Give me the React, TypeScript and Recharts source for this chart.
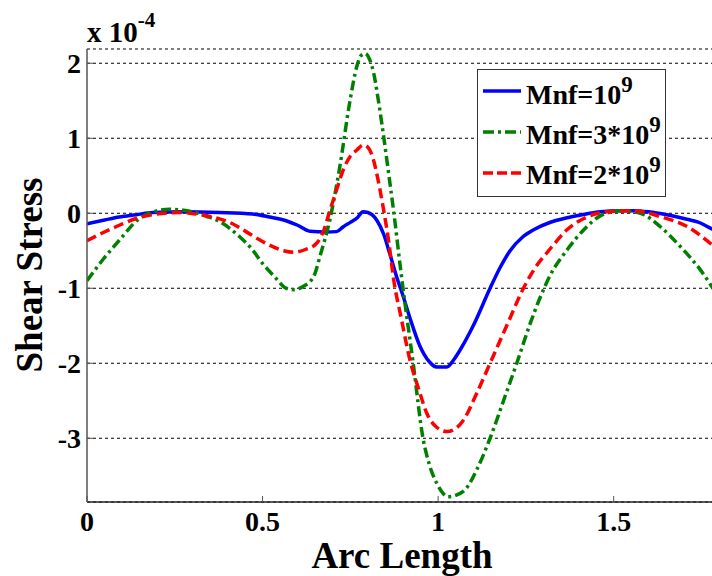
import React from 'react';
import { LineChart, Line, XAxis, YAxis, CartesianGrid, Legend } from 'recharts';

const FONT = "'Liberation Serif', 'Times New Roman', serif";

const blueX = [0, 0.05, 0.092, 0.14, 0.187, 0.28, 0.377, 0.472, 0.52, 0.567, 0.6, 0.635, 0.68, 0.711, 0.73, 0.749, 0.77, 0.786, 0.8, 0.825, 0.845, 0.863, 0.882, 0.9, 0.92, 0.949, 0.975, 0.996, 1.025, 1.045, 1.063, 1.1, 1.148, 1.177, 1.205, 1.24, 1.272, 1.32, 1.367, 1.41, 1.462, 1.52, 1.557, 1.6, 1.652, 1.7, 1.747, 1.78, 1.8];
const blueY = [-0.14, -0.09, -0.05, -0.02, 0.01, 0.02, 0.01, -0.01, -0.05, -0.1, -0.16, -0.24, -0.25, -0.245, -0.18, -0.125, -0.06, 0.02, 0.01, -0.09, -0.28, -0.55, -0.85, -1.1, -1.4, -1.78, -1.98, -2.05, -2.05, -1.95, -1.82, -1.5, -1.0, -0.72, -0.5, -0.32, -0.22, -0.12, -0.06, -0.02, 0.02, 0.035, 0.035, 0.02, -0.02, -0.07, -0.13, -0.21, -0.25];

const greenX = [0, 0.045, 0.092, 0.149, 0.19, 0.235, 0.3, 0.34, 0.377, 0.434, 0.47, 0.5, 0.535, 0.567, 0.59, 0.614, 0.645, 0.665, 0.692, 0.72, 0.749, 0.768, 0.78, 0.792, 0.805, 0.816, 0.83, 0.845, 0.86, 0.873, 0.892, 0.9, 0.929, 0.957, 0.975, 0.996, 1.015, 1.028, 1.05, 1.08, 1.11, 1.148, 1.19, 1.224, 1.26, 1.29, 1.32, 1.367, 1.415, 1.462, 1.519, 1.576, 1.633, 1.69, 1.747, 1.78, 1.8];
const greenY = [-0.9, -0.62, -0.36, -0.07, 0.02, 0.053, 0.02, -0.04, -0.11, -0.31, -0.48, -0.67, -0.85, -1.0, -1.02, -0.98, -0.85, -0.55, -0.08, 0.62, 1.5, 1.95, 2.1, 2.13, 2.05, 1.88, 1.5, 1.02, 0.5, 0.04, -0.7, -1.0, -2.0, -3.0, -3.35, -3.6, -3.74, -3.78, -3.76, -3.67, -3.42, -3.0, -2.45, -2.0, -1.5, -1.13, -0.82, -0.49, -0.22, -0.035, 0.035, 0.0, -0.18, -0.445, -0.755, -0.98, -1.12];

const redX = [0, 0.045, 0.092, 0.14, 0.187, 0.263, 0.31, 0.358, 0.41, 0.453, 0.49, 0.529, 0.56, 0.588, 0.624, 0.654, 0.675, 0.692, 0.71, 0.73, 0.75, 0.768, 0.787, 0.8, 0.816, 0.83, 0.845, 0.86, 0.873, 0.895, 0.92, 0.945, 0.968, 0.995, 1.025, 1.05, 1.072, 1.11, 1.148, 1.2, 1.243, 1.272, 1.32, 1.367, 1.415, 1.48, 1.557, 1.633, 1.71, 1.78, 1.8];
const redY = [-0.365, -0.26, -0.16, -0.07, -0.02, 0.01, -0.01, -0.05, -0.13, -0.245, -0.35, -0.445, -0.5, -0.52, -0.48, -0.4, -0.22, 0.04, 0.3, 0.58, 0.76, 0.84, 0.91, 0.88, 0.71, 0.42, 0.04, -0.4, -0.87, -1.4, -1.96, -2.35, -2.67, -2.85, -2.91, -2.87, -2.76, -2.4, -2.0, -1.45, -1.0, -0.76, -0.47, -0.22, -0.07, 0.02, 0.035, -0.045, -0.18, -0.42, -0.5];

const xTicks = [0, 0.5, 1, 1.5];
const yTicks = [-3, -2, -1, 0, 1, 2];
const seriesNames = ['Mnf=10', 'Mnf=3*10', 'Mnf=2*10'];
const seriesExponent = '9';
const scaleBase = 'x 10';
const scaleExponent = '-4';
const xLabel = 'Arc Length';
const yLabel = 'Shear Stress';

const toRows = (xs: number[], ys: number[]) => xs.map((x, i) => ({ x, y: ys[i] }));

const series = [
  { name: seriesNames[0], data: toRows(blueX, blueY), color: '#0000ff', dash: undefined as string | undefined, legendDash: undefined as string | undefined },
  { name: seriesNames[1], data: toRows(greenX, greenY), color: '#008000', dash: '10 4 3 4', legendDash: '11 4 3 4' },
  { name: seriesNames[2], data: toRows(redX, redY), color: '#ff0000', dash: '10 5', legendDash: '10 4' },
];

const LegendBox = () => (
  <svg width={190} height={129} style={{ display: 'block' }}>
    <rect x={0.5} y={0.5} width={188} height={127} fill="#fff" stroke="#333" strokeWidth={1} />
    {series.map((s, i) => (
      <g key={s.name}>
        <line x1={6} x2={44} y1={22 + i * 41} y2={22 + i * 41} stroke={s.color} strokeWidth={3.5} strokeDasharray={s.legendDash} />
        <text x={49} y={35 + i * 40} fontFamily={FONT} fontWeight="bold" fontSize={28} fill="#000">
          {s.name}
          <tspan dy={-12} fontSize={23}>{seriesExponent}</tspan>
        </text>
      </g>
    ))}
  </svg>
);

const renderYLabel = () => (
  <g>
    <text x={42} y={275} transform="rotate(-90 42 275)" textAnchor="middle" fontFamily={FONT} fontWeight="bold" fontSize={37} fill="#000">
      {yLabel}
    </text>
    <text x={87} y={42} fontFamily={FONT} fontWeight="bold" fontSize={29} fill="#000">
      {scaleBase}
      <tspan dy={-15} fontSize={21}>{scaleExponent}</tspan>
    </text>
  </g>
);

const renderXLabel = () => (
  <text x={402} y={568} textAnchor="middle" fontFamily={FONT} fontWeight="bold" fontSize={37} fill="#000">
    {xLabel}
  </text>
);

const tickStyle = { fontFamily: FONT, fontWeight: 'bold', fontSize: 28, fill: '#000' };

export default function App() {
  return (
    <div style={{ position: 'absolute', left: 0, top: 0, width: 712, height: 576, overflow: 'hidden', background: '#fff' }}>
      <LineChart width={730} height={576} margin={{ top: 49, right: 11, bottom: 34, left: 27 }}>
        <CartesianGrid vertical={false} stroke="#000" strokeDasharray="3 3" />
        <XAxis
          dataKey="x"
          type="number"
          domain={[0, 1.8]}
          ticks={xTicks}
          allowDataOverflow
          height={40}
          tickSize={-6}
          tickMargin={15}
          tick={tickStyle}
          axisLine={{ stroke: '#222', strokeWidth: 1.5 }}
          tickLine={{ stroke: '#555' }}
          label={renderXLabel}
        />
        <XAxis
          xAxisId="top"
          orientation="top"
          type="number"
          domain={[0, 1.8]}
          ticks={xTicks}
          allowDataOverflow
          height={0}
          tickSize={-6}
          tick={false}
          axisLine={{ stroke: '#777', strokeWidth: 1.5 }}
          tickLine={{ stroke: '#555' }}
        />
        <YAxis
          type="number"
          domain={[-3.85, 2.19]}
          ticks={yTicks}
          allowDataOverflow
          width={60}
          tickSize={-6}
          tickMargin={12}
          tick={tickStyle}
          axisLine={{ stroke: '#555', strokeWidth: 1.5 }}
          tickLine={{ stroke: '#555' }}
          label={renderYLabel}
        />
        <Legend
          layout="vertical"
          align="center"
          verticalAlign="middle"
          content={() => <LegendBox />}
          wrapperStyle={{ left: 477, top: 69, width: 190, height: 129 }}
        />
        {series.map((s) => (
          <Line
            key={s.name}
            data={s.data}
            dataKey="y"
            name={s.name}
            type="monotone"
            stroke={s.color}
            strokeWidth={3.5}
            strokeDasharray={s.dash}
            dot={false}
            isAnimationActive={false}
          />
        ))}
      </LineChart>
    </div>
  );
}
